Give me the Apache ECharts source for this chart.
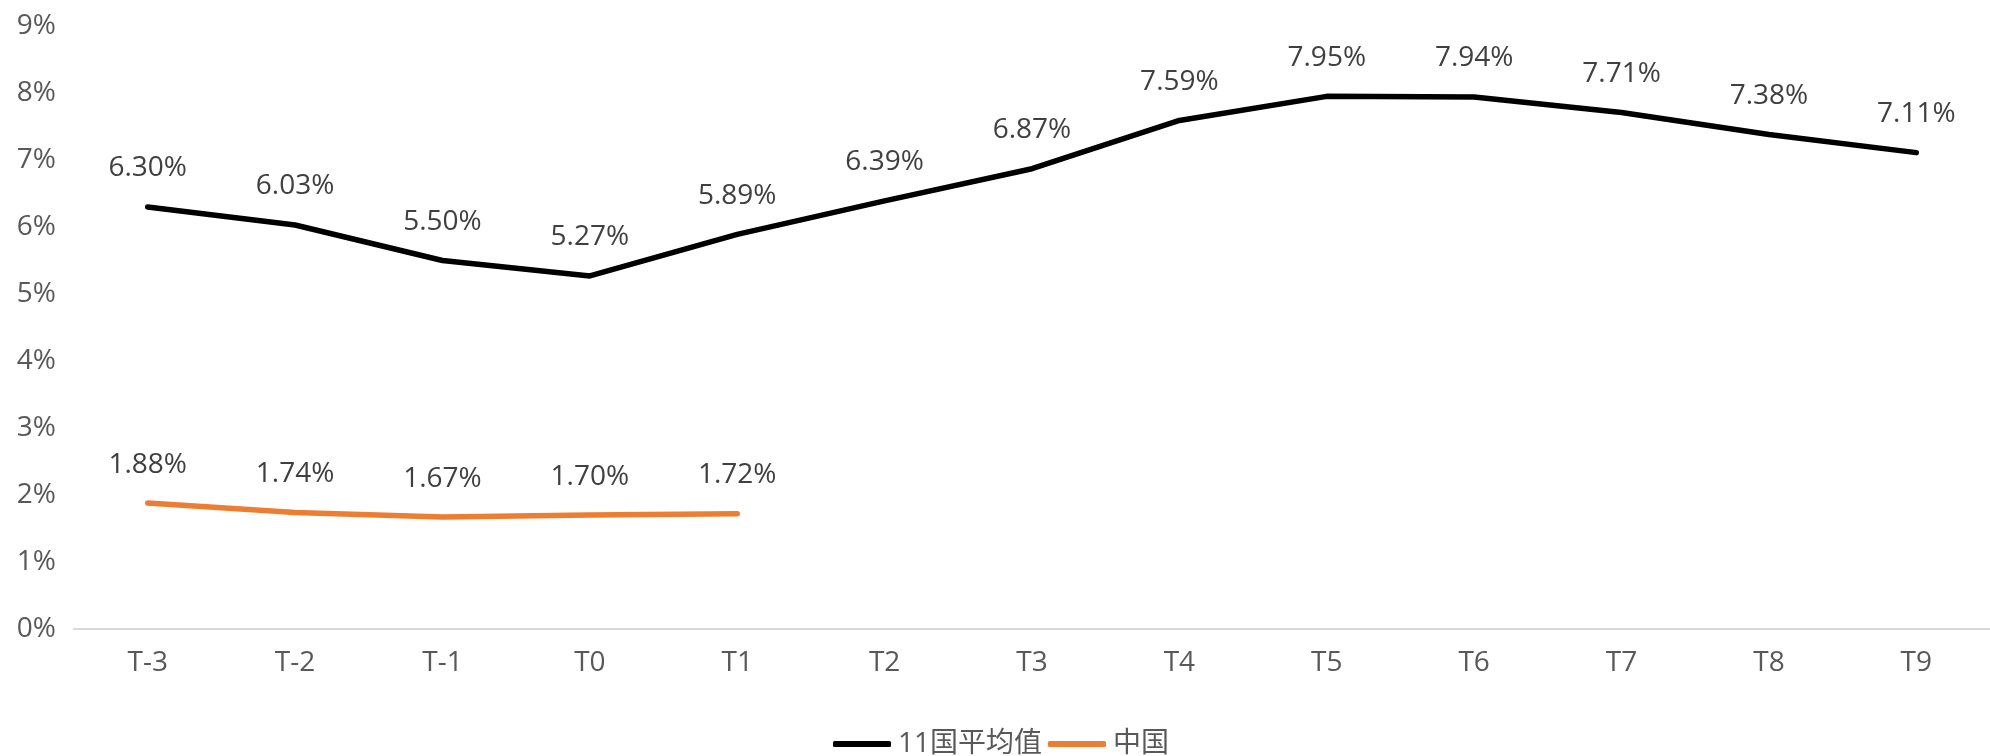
<!DOCTYPE html>
<html>
<head>
<meta charset="utf-8">
<script src="https://cdn.jsdelivr.net/npm/echarts@6/dist/echarts.min.js"></script>
<style>
  html, body { margin: 0; padding: 0; background: #fff; }
  #chart { width: 1990px; height: 756px; }
</style>
</head>
<body>
<div id="chart"></div>
<script>
// Period labels relative to T0
const categories = ['T-3', 'T-2', 'T-1', 'T0', 'T1', 'T2', 'T3', 'T4', 'T5', 'T6', 'T7', 'T8', 'T9'];

// Average of the 11 countries (%)
const avgValues = [6.30, 6.03, 5.50, 5.27, 5.89, 6.39, 6.87, 7.59, 7.95, 7.94, 7.71, 7.38, 7.11];

// China (%), available through T1 only
const chinaValues = [1.88, 1.74, 1.67, 1.70, 1.72, null, null, null, null, null, null, null, null];

const seriesNames = ['11国平均值', '中国'];

const FONT = "'Open Sans', 'Noto Sans CJK SC', sans-serif";

const chart = echarts.init(document.getElementById('chart'), null, { renderer: 'canvas' });

const labelStyle = {
  show: true,
  position: 'top',
  distance: 24,
  fontFamily: FONT,
  fontSize: 28,
  color: '#404040',
  formatter: p => (p.value == null ? '' : p.value.toFixed(2) + '%')
};

chart.setOption({
  animation: false,
  backgroundColor: '#ffffff',
  textStyle: { fontFamily: FONT },
  grid: { left: 74, right: -6, top: 26, bottom: 127, containLabel: false },
  legend: {
    data: seriesNames,
    left: 828,
    top: 725,
    icon: 'roundRect',
    itemWidth: 58,
    itemHeight: 6,
    itemGap: 6,
    textStyle: { fontFamily: FONT, fontSize: 28, color: '#595959', padding: [0, 0, 0, 2] }
  },
  xAxis: {
    type: 'category',
    data: categories,
    boundaryGap: true,
    axisLine: { show: true, lineStyle: { color: '#d9d9d9', width: 2 } },
    axisTick: { show: false },
    axisLabel: { fontFamily: FONT, fontSize: 28, color: '#595959', margin: 20 },
    splitLine: { show: false }
  },
  yAxis: {
    type: 'value',
    min: 0,
    max: 9,
    interval: 1,
    axisLine: { show: false },
    axisTick: { show: false },
    splitLine: { show: false },
    axisLabel: { fontFamily: FONT, fontSize: 28, color: '#595959', margin: 18, formatter: '{value}%' }
  },
  series: [
    {
      name: seriesNames[0],
      type: 'line',
      data: avgValues,
      showSymbol: true,
      symbol: 'circle',
      symbolSize: 1,
      lineStyle: { color: '#000000', width: 5.5, cap: 'round', join: 'round' },
      itemStyle: { color: '#000000' },
      label: labelStyle
    },
    {
      name: seriesNames[1],
      type: 'line',
      data: chinaValues,
      showSymbol: true,
      symbol: 'circle',
      symbolSize: 1,
      connectNulls: false,
      lineStyle: { color: '#ED7D31', width: 5.5, cap: 'round', join: 'round' },
      itemStyle: { color: '#ED7D31' },
      label: labelStyle
    }
  ]
});
</script>
</body>
</html>
